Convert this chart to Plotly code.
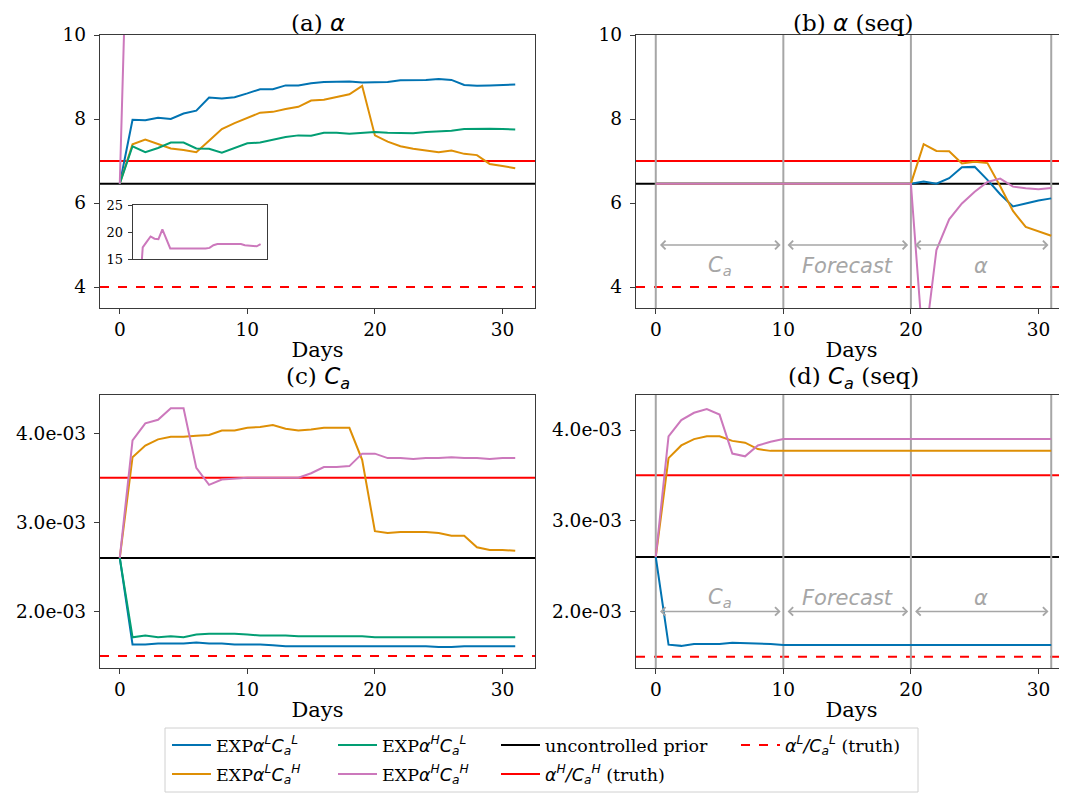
import plotly.graph_objects as go

# ---------------- data ----------------
days = list(range(32))

# panel (a): alpha, joint experiments
alpha_LL = [6.46, 7.98, 7.97, 8.03, 8.00, 8.13, 8.20, 8.51, 8.49, 8.52, 8.61, 8.71, 8.71, 8.80, 8.80, 8.85,
            8.88, 8.89, 8.89, 8.87, 8.87, 8.88, 8.92, 8.92, 8.93, 8.95, 8.93, 8.81, 8.79, 8.80, 8.81, 8.82]
alpha_LH = [6.46, 7.40, 7.51, 7.40, 7.30, 7.26, 7.21, 7.48, 7.76, 7.90, 8.03, 8.15, 8.17, 8.24, 8.29, 8.44,
            8.46, 8.52, 8.59, 8.79, 7.61, 7.46, 7.35, 7.29, 7.25, 7.21, 7.25, 7.17, 7.14, 6.93, 6.88, 6.83]
alpha_HL = [6.46, 7.35, 7.21, 7.31, 7.44, 7.44, 7.30, 7.29, 7.20, 7.31, 7.42, 7.44, 7.50, 7.57, 7.61, 7.60,
            7.67, 7.67, 7.65, 7.67, 7.69, 7.67, 7.66, 7.66, 7.69, 7.70, 7.72, 7.76, 7.77, 7.77, 7.76, 7.75]
alpha_HH = [6.46, 17.2, 18.2, 19.2, 18.8, 18.7, 20.5, 18.7, 17.0, 17.0, 17.0, 17.0, 17.0, 16.9, 16.9, 16.9,
            17.0, 17.0, 17.1, 17.6, 17.8, 17.8, 17.8, 17.8, 17.8, 17.8, 17.8, 17.6, 17.5, 17.4, 17.4, 17.8]

# panel (b): alpha, sequential experiments
alpha_seq_LL = [6.46] * 21 + [6.51, 6.46, 6.59, 6.85, 6.86, 6.55, 6.21, 5.92, 5.99, 6.06, 6.11]
alpha_seq_LH = [6.46] * 21 + [7.40, 7.24, 7.23, 6.94, 6.98, 6.95, 6.40, 5.81, 5.43, 5.33, 5.22]
alpha_seq_HH = [6.46] * 21 + [2.40, 4.88, 5.61, 5.99, 6.27, 6.50, 6.58, 6.39, 6.35, 6.33, 6.36]

# panel (c): Ca (units of 1e-3), joint experiments
Ca_LL = [2.60, 1.63, 1.63, 1.64, 1.64, 1.64, 1.65, 1.64, 1.64, 1.63, 1.63, 1.63, 1.62, 1.61, 1.61, 1.61,
         1.61, 1.61, 1.61, 1.61, 1.61, 1.61, 1.61, 1.61, 1.61, 1.60, 1.60, 1.61, 1.61, 1.61, 1.61, 1.61]
Ca_LH = [2.60, 3.73, 3.86, 3.93, 3.96, 3.96, 3.97, 3.98, 4.03, 4.03, 4.06, 4.07, 4.09, 4.05, 4.03, 4.04,
         4.06, 4.06, 4.06, 3.70, 2.90, 2.88, 2.89, 2.89, 2.89, 2.88, 2.85, 2.85, 2.72, 2.69, 2.69, 2.68]
Ca_HL = [2.60, 1.71, 1.73, 1.71, 1.72, 1.71, 1.74, 1.75, 1.75, 1.75, 1.74, 1.73, 1.73, 1.73, 1.72, 1.72,
         1.72, 1.72, 1.72, 1.72, 1.71, 1.71, 1.71, 1.71, 1.71, 1.71, 1.71, 1.71, 1.71, 1.71, 1.71, 1.71]
Ca_HH = [2.60, 3.92, 4.11, 4.15, 4.28, 4.28, 3.61, 3.42, 3.48, 3.49, 3.50, 3.50, 3.50, 3.50, 3.50, 3.55,
         3.62, 3.62, 3.63, 3.77, 3.77, 3.72, 3.72, 3.71, 3.72, 3.72, 3.73, 3.72, 3.72, 3.71, 3.72, 3.72]

# panel (d): Ca (units of 1e-3), sequential experiments
Ca_seq_LL = [2.60, 1.633, 1.62, 1.64, 1.64, 1.64, 1.655, 1.65, 1.65, 1.64, 1.63] + [1.63] * 21
Ca_seq_LH = [2.60, 3.69, 3.83, 3.90, 3.93, 3.93, 3.88, 3.86, 3.79, 3.77, 3.77] + [3.77] * 21
Ca_seq_HH = [2.60, 3.93, 4.11, 4.19, 4.23, 4.17, 3.74, 3.71, 3.83, 3.87, 3.90] + [3.90] * 21

CA_UNIT = 1e-3

prior_alpha = 6.46
truth_alpha_H = 7.0
truth_alpha_L = 4.0
prior_Ca = 2.6      # x 1e-3
truth_Ca_H = 3.5    # x 1e-3
truth_Ca_L = 1.5    # x 1e-3

phase_bounds = [0, 10, 20, 31]
phase_labels = ["<i>C<sub>a</sub></i>", "<i>Forecast</i>", "<i>α</i>"]
arrow_y_alpha, label_y_alpha = 5.0, 4.5
arrow_y_Ca, label_y_Ca = 2.0, 2.15   # x 1e-3

day_ticks = [0, 10, 20, 30]
alpha_ticks = [4, 6, 8, 10]
inset_ticks = [15, 20, 25]
Ca_ticks = [2.0, 3.0, 4.0]           # x 1e-3
Ca_ticktext = ["2.0e-03", "3.0e-03", "4.0e-03"]

names = {
    "LL": "EXP<span style='font-family:DejaVu Sans'><i>α<sup>L</sup>C<sub>a</sub><sup>L</sup></i></span>",
    "LH": "EXP<span style='font-family:DejaVu Sans'><i>α<sup>L</sup>C<sub>a</sub><sup>H</sup></i></span>",
    "HL": "EXP<span style='font-family:DejaVu Sans'><i>α<sup>H</sup>C<sub>a</sub><sup>L</sup></i></span>",
    "HH": "EXP<span style='font-family:DejaVu Sans'><i>α<sup>H</sup>C<sub>a</sub><sup>H</sup></i></span>",
}
name_prior = "uncontrolled prior"
name_truth_H = "<span style='font-family:DejaVu Sans'><i>α<sup>H</sup>/C<sub>a</sub><sup>H</sup></i></span> (truth)"
name_truth_L = "<span style='font-family:DejaVu Sans'><i>α<sup>L</sup>/C<sub>a</sub><sup>L</sup></i></span> (truth)"

# ---------------- style ----------------
OFF = 8                      # page offset of the figure inside the browser window
W, H = 1067 - OFF, 794 - OFF
colors = {"LL": "#0173b2", "LH": "#de8f05", "HL": "#029e73", "HH": "#cc78bc"}
GREY = "#a6a6a6"
SPINE = "#3a3a3a"
LW = 2

def px_x(p):
    return (p - OFF) / W

def px_y(p):
    return 1 - (p - OFF) / H

dom_x_left = [px_x(100), px_x(535)]
dom_x_right = [px_x(636), 1.0]
dom_y_top = [px_y(308), px_y(35)]
dom_y_bot = [px_y(668), px_y(395)]
x_rng_left = [-1.55, 32.55]
x_rng_right = [-1.55, -1.55 + 431 / (435 / 34.1)]

fig = go.Figure()

def add_line(y, key, xa, ya, legend=None, scale=1.0):
    fig.add_trace(go.Scatter(
        x=days, y=[v * scale for v in y], mode="lines",
        line=dict(color=colors[key], width=LW),
        name=names[key], xaxis=xa, yaxis=ya,
        showlegend=legend is not None, legend=legend or "legend",
    ))

# panel (a)
add_line(alpha_LL, "LL", "x", "y", "legend")
add_line(alpha_LH, "LH", "x", "y", "legend2")
add_line(alpha_HL, "HL", "x", "y", "legend3")
add_line(alpha_HH, "HH", "x", "y", "legend4")
# inset
add_line(alpha_HH, "HH", "x5", "y5")
# panel (b)
add_line(alpha_seq_LL, "LL", "x2", "y2")
add_line(alpha_seq_LH, "LH", "x2", "y2")
add_line(alpha_seq_HH, "HH", "x2", "y2")
# panel (c)
add_line(Ca_LL, "LL", "x3", "y3", scale=CA_UNIT)
add_line(Ca_LH, "LH", "x3", "y3", scale=CA_UNIT)
add_line(Ca_HL, "HL", "x3", "y3", scale=CA_UNIT)
add_line(Ca_HH, "HH", "x3", "y3", scale=CA_UNIT)
# panel (d)
add_line(Ca_seq_LL, "LL", "x4", "y4", scale=CA_UNIT)
add_line(Ca_seq_LH, "LH", "x4", "y4", scale=CA_UNIT)
add_line(Ca_seq_HH, "HH", "x4", "y4", scale=CA_UNIT)

# legend-only entries for reference lines
fig.add_trace(go.Scatter(x=[None], y=[None], mode="lines", line=dict(color="black", width=LW),
                         name=name_prior, legend="legend5"))
fig.add_trace(go.Scatter(x=[None], y=[None], mode="lines", line=dict(color="red", width=LW),
                         name=name_truth_H, legend="legend6"))
fig.add_trace(go.Scatter(x=[None], y=[None], mode="lines", line=dict(color="red", width=LW, dash="dash"),
                         name=name_truth_L, legend="legend7"))

# reference horizontal lines
ref_sets = [
    ("x", "y", prior_alpha, truth_alpha_H, truth_alpha_L, 1.0),
    ("x2", "y2", prior_alpha, truth_alpha_H, truth_alpha_L, 1.0),
    ("x3", "y3", prior_Ca, truth_Ca_H, truth_Ca_L, CA_UNIT),
    ("x4", "y4", prior_Ca, truth_Ca_H, truth_Ca_L, CA_UNIT),
]
for xa, ya, pr, th, tl, sc in ref_sets:
    for val, col, dash in [(pr, "black", "solid"), (th, "red", "solid"), (tl, "red", "dash")]:
        fig.add_shape(type="line", xref=f"{xa} domain", yref=ya, x0=0, x1=1, y0=val * sc, y1=val * sc,
                      line=dict(color=col, width=LW, dash=dash), layer="below")

# phase lines, arrows and labels on sequential panels
for xa, ya, ay, ly, sc in [("x2", "y2", arrow_y_alpha, label_y_alpha, 1.0),
                           ("x4", "y4", arrow_y_Ca, label_y_Ca, CA_UNIT)]:
    for b in phase_bounds:
        fig.add_shape(type="line", xref=xa, yref=f"{ya} domain", x0=b, x1=b, y0=0, y1=1,
                      line=dict(color=GREY, width=2), layer="below")
    for i, lab in enumerate(phase_labels):
        x0, x1 = phase_bounds[i], phase_bounds[i + 1]
        fig.add_annotation(x=x1, y=ay * sc, ax=x0, ay=ay * sc, xref=xa, yref=ya, axref=xa, ayref=ya,
                           text="", showarrow=True, arrowside="end+start", arrowhead=4, startarrowhead=4,
                           arrowsize=1.1, startarrowsize=1.1, arrowwidth=1.5, arrowcolor=GREY,
                           standoff=2.7, startstandoff=2.7)
        fig.add_annotation(x=(x0 + x1) / 2, y=ly * sc, xref=xa, yref=ya, text=lab, showarrow=False,
                           font=dict(family="DejaVu Sans", size=21, color=GREY),
                           xanchor="center", yanchor="middle")

# titles
titles = [
    ("(a) <span style='font-family:DejaVu Sans'><i>α</i></span>", 317.5, 37),
    ("(b) <span style='font-family:DejaVu Sans'><i>α</i></span> (seq)", 853, 37),
    ("(c) <span style='font-family:DejaVu Sans'><i>C<sub>a</sub></i></span>", 317.5, 394),
    ("(d) <span style='font-family:DejaVu Sans'><i>C<sub>a</sub></i></span> (seq)", 853, 394),
]
for t, cx, by in titles:
    fig.add_annotation(x=px_x(cx), y=px_y(by), xref="paper", yref="paper", text=t, showarrow=False,
                       xanchor="center", yanchor="bottom", borderpad=0, font=dict(size=23, color="black"))

# axes
axis_common = dict(showline=True, mirror=True, linecolor=SPINE, linewidth=1.3, ticks="outside",
                   ticklen=5, tickwidth=1.1, tickcolor=SPINE, showgrid=False, zeroline=False,
                   tickfont=dict(size=18.5, color="black"), automargin=False)
xt = dict(tickmode="array", tickvals=day_ticks,
          title=dict(text="Days", font=dict(size=21, color="black"), standoff=2))
yt = dict(tickmode="array", ticklabelstandoff=4)
fig.update_layout(
    xaxis=dict(domain=dom_x_left, range=x_rng_left, anchor="y", **xt, **axis_common),
    yaxis=dict(domain=dom_y_top, range=[3.5, 10], anchor="x", tickvals=alpha_ticks, **yt, **axis_common),
    xaxis2=dict(domain=dom_x_right, range=x_rng_right, anchor="y2", **xt, **axis_common),
    yaxis2=dict(domain=dom_y_top, range=[3.5, 10], anchor="x2", tickvals=alpha_ticks, **yt, **axis_common),
    xaxis3=dict(domain=dom_x_left, range=x_rng_left, anchor="y3", **xt, **axis_common),
    yaxis3=dict(domain=dom_y_bot, range=[1.365e-3, 4.428e-3], anchor="x3",
                tickvals=[v * CA_UNIT for v in Ca_ticks], ticktext=Ca_ticktext, **yt, **axis_common),
    xaxis4=dict(domain=dom_x_right, range=x_rng_right, anchor="y4", **xt, **axis_common),
    yaxis4=dict(domain=dom_y_bot, range=[1.376e-3, 4.386e-3], anchor="x4",
                tickvals=[v * CA_UNIT for v in Ca_ticks], ticktext=Ca_ticktext, **yt, **axis_common),
    xaxis5=dict(domain=[px_x(132.7), px_x(266.7)], range=x_rng_left, anchor="y5", showline=True,
                mirror=True, linecolor=SPINE, linewidth=1.2, showticklabels=False, ticks="",
                showgrid=False, zeroline=False, automargin=False),
    yaxis5=dict(domain=[px_y(259.3), px_y(205)], range=[15, 25], anchor="x5", tickmode="array",
                tickvals=inset_ticks, showline=True, mirror=True, linecolor=SPINE, linewidth=1.2,
                ticks="outside", ticklen=4, tickcolor=SPINE, showgrid=False, zeroline=False,
                tickfont=dict(size=13, color="black"), automargin=False, ticklabelstandoff=2),
)

# legends: 4 columns x 2 rows, column-major like the original
leg_font = dict(family="DejaVu Serif", size=17.5, color="black")
col_x = [171, 337, 500, 740]
row_y = [745, 774]
leg_slots = {"legend": (0, 0), "legend2": (0, 1), "legend3": (1, 0), "legend4": (1, 1),
             "legend5": (2, 0), "legend6": (2, 1), "legend7": (3, 0)}
leg_layout = {}
for lname, (c, r) in leg_slots.items():
    leg_layout[lname] = dict(x=px_x(col_x[c] - 4), y=px_y(row_y[r]), xanchor="left", yanchor="middle",
                             bgcolor="rgba(0,0,0,0)", borderwidth=0, font=leg_font,
                             orientation="v", itemwidth=39)
fig.update_layout(**leg_layout)
fig.add_shape(type="rect", xref="paper", yref="paper", x0=px_x(165), x1=px_x(918), y0=px_y(792),
              y1=px_y(728), line=dict(color="#d0d0d0", width=1), fillcolor="rgba(0,0,0,0)")

fig.update_layout(
    width=W, height=H, margin=dict(l=0, r=0, t=0, b=0, autoexpand=False),
    plot_bgcolor="white", paper_bgcolor="white",
    font=dict(family="DejaVu Serif", size=19, color="black"),
)

fig.write_html("out.html")
